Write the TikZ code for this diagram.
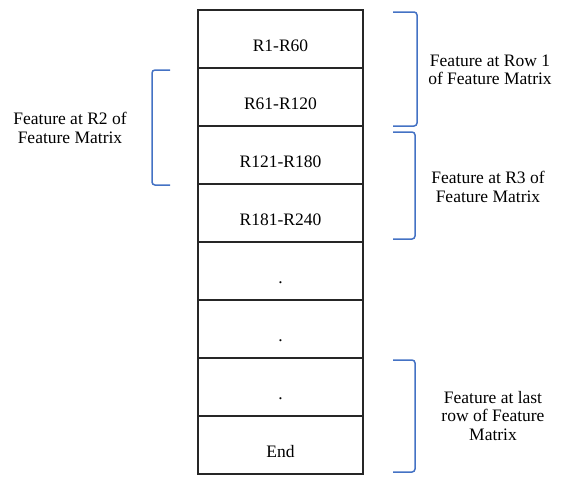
\documentclass[tikz,border=0pt]{standalone}
\usepackage{fontspec}
\setmainfont{Liberation Serif}
\usepackage{xcolor}
\usepackage{tikz}
\usetikzlibrary{positioning}

\definecolor{braceblue}{RGB}{68,114,196}

\begin{document}
\begin{tikzpicture}[x=1pt,y=-1pt,font=\fontsize{17.5}{18.5}\selectfont,
  rowbox/.style={draw=black!85,line width=1.2pt,minimum width=165pt,
    minimum height=58pt,text height=24pt,text depth=0pt,inner sep=0pt,outer sep=0pt},
  brace/.style={draw=braceblue,line width=1.5pt,rounded corners=3pt},
  note/.style={align=center}]

    \useasboundingbox (0,0) rectangle (561,477);

    % the column of rows
    \node[rowbox] (r1) at (280.5,39) {R1-R60};
    \node[rowbox,below=0pt of r1] (r2) {R61-R120};
    \node[rowbox,below=0pt of r2] (r3) {R121-R180};
    \node[rowbox,below=0pt of r3] (r4) {R181-R240};
    \node[rowbox,below=0pt of r4] (r5) {.};
    \node[rowbox,below=0pt of r5] (r6) {.};
    \node[rowbox,below=0pt of r6] (r7) {.};
    \node[rowbox,below=0pt of r7] (r8) {End};

    % brackets
    \draw[brace] (393,12) -- (417,12) -- (417,126) -- (393,126);
    \draw[brace] (393,132) -- (415,132) -- (415,239) -- (393,239);
    \draw[brace] (170,70) -- (152,70) -- (152,185) -- (170,185);
    \draw[brace] (393,360) -- (415,360) -- (415,472) -- (393,472);

    % notes
    \node[note] (rowone) at (490,70) {Feature at Row 1\\of Feature Matrix};
    \node[note] (rowthree) at (488,187) {Feature at R3 of\\Feature Matrix};
    \node[note] (rowtwo) at (70,128) {Feature at R2 of\\Feature Matrix};
    \node[note] (rowlast) at (493,416) {Feature at last\\row of Feature\\Matrix};

\end{tikzpicture}
\end{document}
